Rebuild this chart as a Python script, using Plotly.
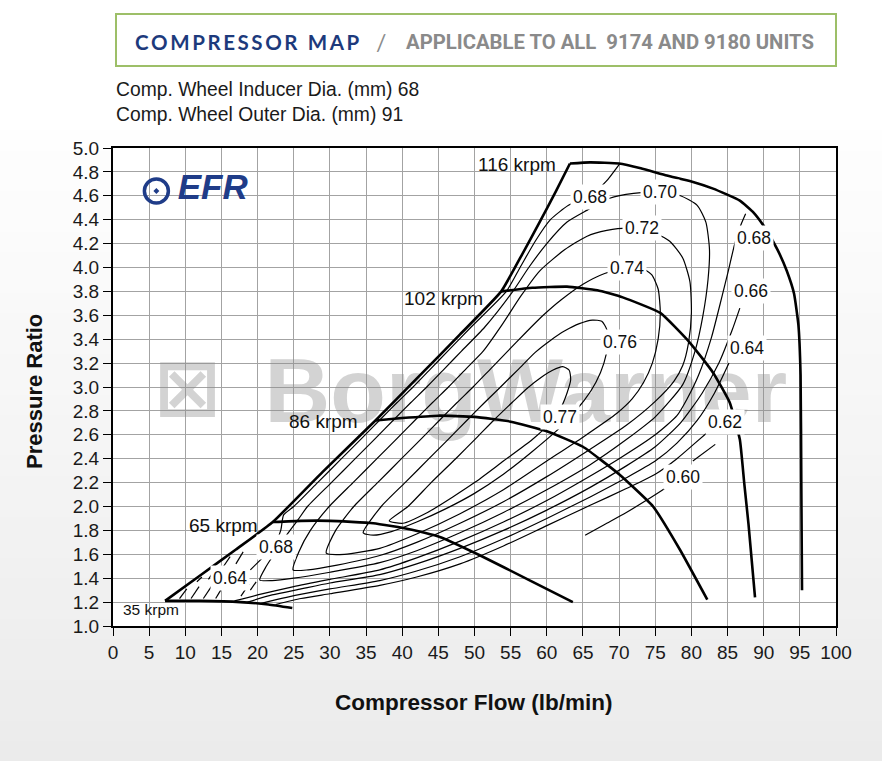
import plotly.graph_objects as go

# ---------------- data ----------------
surge_x = [7.2, 12.0, 17.0, 22.1, 29.0, 36.3, 42.0, 48.0, 53.7, 56.5, 59.1, 61.2, 63.2]
surge_y = [1.21, 1.42, 1.64, 1.87, 2.29, 2.72, 3.07, 3.44, 3.80, 4.10, 4.39, 4.63, 4.87]

spd35_x = [7.2, 12.0, 17.6, 21.5, 24.8]
spd35_y = [1.21, 1.21, 1.20, 1.18, 1.15]
spd65_x = [22.1, 26.0, 30.0, 36.0, 41.0, 45.2, 50.8, 57.7, 63.6]
spd65_y = [1.87, 1.88, 1.88, 1.86, 1.81, 1.745, 1.59, 1.38, 1.20]
spd86_x = [36.3, 40.0, 45.0, 50.0, 55.0, 60.0, 65.0, 70.0, 74.7, 78.4, 82.2]
spd86_y = [2.72, 2.74, 2.76, 2.75, 2.71, 2.63, 2.50, 2.27, 2.00, 1.64, 1.22]
spd102_x = [53.7, 58.0, 62.8, 67.0, 70.5, 75.7, 79.8, 83.0, 85.3, 86.7, 87.3, 87.9, 88.8]
spd102_y = [3.80, 3.83, 3.84, 3.81, 3.75, 3.62, 3.37, 3.12, 2.87, 2.56, 2.20, 1.85, 1.24]
spd116_x = [63.2, 66.0, 70.0, 73.0, 76.6, 80.0, 83.0, 86.7, 88.6, 90.2, 91.9, 93.2, 94.2, 94.8, 95.1, 95.2, 95.3]
spd116_y = [4.87, 4.88, 4.87, 4.83, 4.77, 4.72, 4.66, 4.56, 4.46, 4.33, 4.15, 3.97, 3.78, 3.52, 3.10, 2.20, 1.30]

speed_names = ["35 krpm", "65 krpm", "86 krpm", "102 krpm", "116 krpm"]
speed_label_x = [5.3, 20.3, 34.2, 51.5, 61.5]
speed_label_y = [1.134, 1.845, 2.71, 3.74, 4.86]

eff077_x = [38.2, 40.8, 44.0, 47.4, 50.2, 52.8, 55.2, 57.3, 59.2, 60.8, 62.2, 63.1, 63.3, 62.8, 61.9, 60.6, 58.0, 54.0, 50.0, 47.0, 43.5, 40.1, 38.2]
eff077_y = [1.88, 2.00, 2.20, 2.40, 2.57, 2.73, 2.87, 2.99, 3.08, 3.14, 3.17, 3.14, 3.06, 2.95, 2.82, 2.71, 2.56, 2.38, 2.20, 2.08, 1.95, 1.86, 1.88]

eff076_x = [34.6, 37.1, 40.4, 43.7, 46.5, 49.1, 51.4, 53.6, 56.1, 58.4, 60.5, 62.5, 64.5, 66.3, 67.6, 68.3, 68.4, 67.9, 66.8, 65.2, 62.0, 58.0, 54.0, 50.0, 46.0, 42.0, 38.5, 36.0, 34.6]
eff076_y = [1.78, 2.00, 2.20, 2.40, 2.57, 2.73, 2.87, 3.00, 3.15, 3.29, 3.39, 3.47, 3.53, 3.56, 3.55, 3.48, 3.35, 3.20, 3.04, 2.89, 2.67, 2.46, 2.27, 2.11, 1.98, 1.87, 1.79, 1.76, 1.78]

eff074_x = [29.5, 30.8, 33.3, 36.6, 39.9, 42.7, 45.3, 47.6, 49.8, 52.2, 54.6, 57.0, 59.5, 62.0, 65.0, 68.0, 70.5, 72.9, 74.5, 75.4, 75.7, 75.4, 74.6, 73.4, 71.8, 69.7, 65.0, 60.0, 54.0, 48.0, 42.0, 36.9, 32.0, 29.5]
eff074_y = [1.61, 1.80, 2.00, 2.20, 2.40, 2.57, 2.73, 2.87, 3.00, 3.15, 3.30, 3.45, 3.60, 3.73, 3.86, 3.95, 3.99, 4.00, 3.94, 3.82, 3.62, 3.40, 3.20, 3.04, 2.90, 2.78, 2.58, 2.38, 2.14, 1.94, 1.77, 1.65, 1.60, 1.61]

eff072_x = [24.9, 25.7, 27.3, 29.9, 33.2, 36.5, 39.3, 41.9, 44.2, 46.4, 48.8, 51.2, 53.8, 56.4, 59.0, 62.5, 65.5, 68.3, 71.2, 74.5, 77.0, 78.8, 79.8, 80.0, 79.6, 78.8, 77.6, 75.0, 71.0, 66.0, 60.0, 54.0, 48.0, 42.0, 36.9, 31.0, 27.0, 24.9]
eff072_y = [1.47, 1.62, 1.80, 2.00, 2.20, 2.40, 2.57, 2.73, 2.87, 3.00, 3.15, 3.30, 3.52, 3.76, 3.97, 4.15, 4.26, 4.31, 4.33, 4.30, 4.22, 4.08, 3.88, 3.62, 3.37, 3.18, 3.05, 2.88, 2.68, 2.48, 2.25, 2.04, 1.86, 1.70, 1.59, 1.51, 1.47, 1.47]

eff070_x = [20.3, 21.2, 22.6, 24.0, 25.6, 26.9, 30.2, 33.5, 36.3, 38.9, 41.2, 43.4, 45.8, 48.2, 51.4, 55.3, 57.5, 60.0, 62.8, 65.6, 68.7, 72.0, 75.4, 78.5, 80.8, 82.0, 82.5, 82.3, 81.6, 80.5, 78.8, 75.0, 71.0, 66.0, 60.0, 54.0, 48.0, 42.0, 36.9, 30.0, 25.0, 22.0, 20.3]
eff070_y = [1.385, 1.50, 1.63, 1.76, 1.89, 2.00, 2.20, 2.40, 2.57, 2.73, 2.87, 3.00, 3.15, 3.30, 3.50, 3.80, 4.00, 4.20, 4.38, 4.48, 4.58, 4.62, 4.63, 4.60, 4.52, 4.38, 4.15, 3.90, 3.60, 3.30, 3.02, 2.75, 2.56, 2.35, 2.14, 1.95, 1.78, 1.63, 1.53, 1.45, 1.40, 1.38, 1.385]

eff068a_x = [87.5, 86.8, 86.0, 85.1, 84.2, 82.8, 81.0, 79.4, 78.0, 75.0, 70.0, 65.0, 60.0, 54.0, 48.0, 42.0, 36.9, 30.0, 25.0, 20.0, 16.8]
eff068a_y = [4.45, 4.35, 4.20, 3.97, 3.75, 3.42, 3.10, 2.90, 2.76, 2.60, 2.40, 2.22, 2.05, 1.87, 1.71, 1.57, 1.47, 1.39, 1.33, 1.26, 1.21]
eff068b_x = [19.0, 20.5, 22.2, 23.2, 23.6, 25.0, 28.3, 31.6, 34.4, 37.0, 39.3, 41.5, 43.9, 46.3, 49.5, 54.4, 56.3, 58.4, 60.5, 63.0, 66.0, 68.2, 70.1]
eff068b_y = [1.47, 1.56, 1.66, 1.80, 1.93, 2.00, 2.20, 2.40, 2.57, 2.73, 2.87, 3.00, 3.15, 3.30, 3.50, 3.80, 4.00, 4.22, 4.40, 4.52, 4.60, 4.72, 4.87]

eff066_x = [18.6, 22.0, 26.0, 30.0, 36.9, 42.0, 48.0, 54.0, 60.0, 66.0, 71.0, 75.0, 78.5, 81.5, 83.8, 85.6, 86.7]
eff066_y = [1.20, 1.26, 1.31, 1.36, 1.43, 1.52, 1.65, 1.80, 1.97, 2.16, 2.34, 2.50, 2.70, 2.95, 3.20, 3.47, 3.66]
eff064_x = [20.5, 24.0, 30.0, 36.9, 42.0, 48.0, 54.0, 60.0, 66.0, 71.0, 75.0, 78.0, 80.8, 83.2, 85.2]
eff064_y = [1.19, 1.24, 1.31, 1.38, 1.46, 1.58, 1.73, 1.90, 2.08, 2.24, 2.38, 2.53, 2.72, 2.95, 3.20]
eff062_x = [22.5, 26.0, 30.0, 36.9, 42.0, 48.0, 54.0, 60.0, 66.0, 71.0, 75.0, 78.0, 80.5, 82.4]
eff062_y = [1.18, 1.23, 1.27, 1.34, 1.41, 1.52, 1.67, 1.84, 2.01, 2.15, 2.27, 2.40, 2.53, 2.63]
eff060a_x = [65.3, 68.0, 71.0, 74.0, 76.8]
eff060a_y = [1.76, 1.85, 1.95, 2.06, 2.17]
eff060b_x = [80.2, 83.3]
eff060b_y = [2.38, 2.52]

# short contour pieces in the low-flow corner (between surge and 35 krpm)
hatch_x = [9.2, 10.2, None, 10.8, 11.9, None, 12.5, 13.6, None, 14.2, 14.9, None,
           11.6, 12.3, None, 13.2, 14.2, None, 17.7, 18.8, None, 19.0, 19.8, None,
           15.3, 16.2, None, 17.0, 18.0]
hatch_y = [1.23, 1.31, None, 1.23, 1.33, None, 1.23, 1.33, None, 1.23, 1.30, None,
           1.37, 1.41, None, 1.39, 1.48, None, 1.25, 1.35, None, 1.30, 1.37, None,
           1.50, 1.58, None, 1.52, 1.62]

eff_label_text = ["0.68", "0.70", "0.72", "0.74", "0.76", "0.77", "0.68", "0.66", "0.64", "0.62", "0.60", "0.68", "0.64"]
eff_label_x = [66.0, 75.7, 73.2, 71.1, 70.1, 61.8, 88.6, 88.2, 87.7, 84.6, 78.9, 22.5, 16.2]
eff_label_y = [4.59, 4.63, 4.33, 4.00, 3.38, 2.75, 4.25, 3.80, 3.33, 2.71, 2.25, 1.66, 1.40]

# ---------------- figure ----------------
W, H = 882, 761
ML, MR, MT, MB = 113, 46, 148, 135
PW, PH = W - ML - MR, H - MT - MB


def pxx(px):
    return (px - ML) / PW


def pxy(py):
    return (H - MB - py) / PH


fig = go.Figure()

# watermark (drawn first, under all lines)
fig.add_trace(go.Scatter(x=[57.1], y=[2.90], mode="text", text=["<b>BorgWarner</b>"],
                         textfont=dict(family="Liberation Sans, Arial", size=91,
                                       color="rgba(140,140,140,0.38)"),
                         hoverinfo="skip", showlegend=False))
fig.add_trace(go.Scatter(x=[10.3], y=[2.93], mode="text", text=["<b>⊠</b>"],
                         textfont=dict(family="DejaVu Sans", size=80,
                                       color="rgba(140,140,140,0.38)"),
                         hoverinfo="skip", showlegend=False))

thin = dict(color="black", width=1.2, shape="spline", smoothing=0.6)
thick = dict(color="black", width=2.6, shape="spline", smoothing=0.4)

for xs, ys in [(eff077_x, eff077_y), (eff076_x, eff076_y), (eff074_x, eff074_y),
               (eff072_x, eff072_y), (eff070_x, eff070_y), (eff068a_x, eff068a_y),
               (eff068b_x, eff068b_y), (eff066_x, eff066_y), (eff064_x, eff064_y),
               (eff062_x, eff062_y), (eff060a_x, eff060a_y), (eff060b_x, eff060b_y)]:
    fig.add_trace(go.Scatter(x=xs, y=ys, mode="lines", line=thin,
                             hoverinfo="skip", showlegend=False))

fig.add_trace(go.Scatter(x=hatch_x, y=hatch_y, mode="lines",
                         line=dict(color="black", width=1.2),
                         hoverinfo="skip", showlegend=False, connectgaps=False))

for xs, ys in [(surge_x, surge_y), (spd35_x, spd35_y), (spd65_x, spd65_y),
               (spd86_x, spd86_y), (spd102_x, spd102_y), (spd116_x, spd116_y)]:
    fig.add_trace(go.Scatter(x=xs, y=ys, mode="lines", line=thick,
                             hoverinfo="skip", showlegend=False))

# EFR logo
fig.add_trace(go.Scatter(x=[6.0], y=[4.64], mode="markers",
                         marker=dict(symbol="circle-open-dot", size=24, color="#1f3c88",
                                     line=dict(width=3.5, color="#1f3c88")),
                         hoverinfo="skip", showlegend=False))
fig.add_trace(go.Scatter(x=[13.8], y=[4.65], mode="text", text=["<b><i>EFR</i></b>"],
                         textfont=dict(family="Liberation Sans, Arial", size=35, color="#1f3c88"),
                         hoverinfo="skip", showlegend=False))

ann = []
for t, x, y in zip(eff_label_text, eff_label_x, eff_label_y):
    ann.append(dict(x=x, y=y, xref="x", yref="y", text=t, showarrow=False,
                    font=dict(family="Liberation Sans, Arial", size=17.5, color="#111"),
                    bgcolor="white", borderpad=2))

for i, (t, x, y) in enumerate(zip(speed_names, speed_label_x, speed_label_y)):
    if i == 0:
        ann.append(dict(x=x, y=y, xref="x", yref="y", text=t, showarrow=False,
                        font=dict(family="Liberation Sans, Arial", size=15.5, color="#111"),
                        xanchor="center"))
    else:
        ann.append(dict(x=x, y=y, xref="x", yref="y", text=t, showarrow=False,
                        font=dict(family="Liberation Sans, Arial", size=19, color="#111"),
                        xanchor="right"))

# header texts
title_left = "\u2009".join(list("COMPRESSOR")) + "\u2002" + "\u2009".join(list("MAP"))
ann += [
    dict(x=pxx(133), y=pxy(42), xref="paper", yref="paper", text="<b>" + title_left + "</b>",
         showarrow=False, xanchor="left", yanchor="middle",
         font=dict(family="Lato, Liberation Sans", size=20.5, color="#1d3a7c")),
    dict(x=pxx(381), y=pxy(42), xref="paper", yref="paper", text="/",
         showarrow=False, xanchor="center", yanchor="middle",
         font=dict(family="Lato, Liberation Sans", size=23, color="#8c8c8c")),
    dict(x=pxx(816), y=pxy(42), xref="paper", yref="paper",
         text="<b>APPLICABLE TO ALL  9174 AND 9180 UNITS</b>",
         showarrow=False, xanchor="right", yanchor="middle",
         font=dict(family="Roboto, Liberation Sans", size=20.3, color="#8a8a8a")),
    dict(x=pxx(114), y=pxy(89), xref="paper", yref="paper",
         text="Comp. Wheel Inducer Dia. (mm) 68", showarrow=False,
         xanchor="left", yanchor="middle",
         font=dict(family="Liberation Sans, Arial", size=19.3, color="#1a1a1a")),
    dict(x=pxx(114), y=pxy(114), xref="paper", yref="paper",
         text="Comp. Wheel Outer Dia. (mm) 91", showarrow=False,
         xanchor="left", yanchor="middle",
         font=dict(family="Liberation Sans, Arial", size=19.3, color="#1a1a1a")),
    dict(x=pxx(34), y=pxy(392), xref="paper", yref="paper", text="<b>Pressure Ratio</b>",
         showarrow=False, textangle=-90, xanchor="center", yanchor="middle",
         font=dict(family="Liberation Sans, Arial", size=22, color="#111")),
    dict(x=pxx(474), y=pxy(702), xref="paper", yref="paper",
         text="<b>Compressor Flow (lb/min)</b>",
         showarrow=False, xanchor="center", yanchor="middle",
         font=dict(family="Liberation Sans, Arial", size=22.5, color="#111")),
]

shapes = []
# soft vertical background gradient (page style)
n_bands = 32
top_px, bot_px = 110, H
for i in range(n_bands):
    y0 = top_px + (bot_px - top_px) * i / n_bands
    y1 = top_px + (bot_px - top_px) * (i + 1) / n_bands + 1
    g = int(round(255 - (255 - 235) * (i + 0.5) / n_bands))
    shapes.append(dict(type="rect", xref="paper", yref="paper",
                       x0=pxx(0), x1=pxx(W), y0=pxy(y1), y1=pxy(y0),
                       fillcolor=f"rgb({g},{g},{g})", line=dict(width=0), layer="below"))
# white plotting area
shapes.append(dict(type="rect", xref="paper", yref="paper", x0=0, x1=1, y0=0, y1=1,
                   fillcolor="white", line=dict(width=0), layer="below"))
# header box
shapes.append(dict(type="rect", xref="paper", yref="paper",
                   x0=pxx(116), x1=pxx(836), y0=pxy(66), y1=pxy(14),
                   fillcolor="white", line=dict(color="#9dbf68", width=2), layer="below"))

fig.update_layout(
    width=W, height=H,
    margin=dict(l=ML, r=MR, t=MT, b=MB, autoexpand=False),
    paper_bgcolor="white", plot_bgcolor="white",
    showlegend=False,
    annotations=ann, shapes=shapes,
    font=dict(family="Liberation Sans, Arial", color="#111"),
)
fig.update_xaxes(range=[0, 100], dtick=5, tick0=0, showgrid=True, gridcolor="#a3a3a3",
                 gridwidth=1, zeroline=False, showline=True, linecolor="black",
                 linewidth=2, mirror=True, ticks="outside", ticklen=8, tickcolor="black",
                 tickfont=dict(size=19, color="#1a1a1a", family="Liberation Sans, Arial"),
                 fixedrange=True, automargin=False)
fig.update_yaxes(range=[1, 5], dtick=0.2, tick0=1, tickformat=".1f", showgrid=True,
                 gridcolor="#a3a3a3", gridwidth=1, zeroline=False, showline=True,
                 linecolor="black", linewidth=2, mirror=True, ticks="outside",
                 ticklen=8, tickcolor="black",
                 tickfont=dict(size=19, color="#1a1a1a", family="Liberation Sans, Arial"),
                 fixedrange=True, automargin=False)

fig.write_html("out.html")
